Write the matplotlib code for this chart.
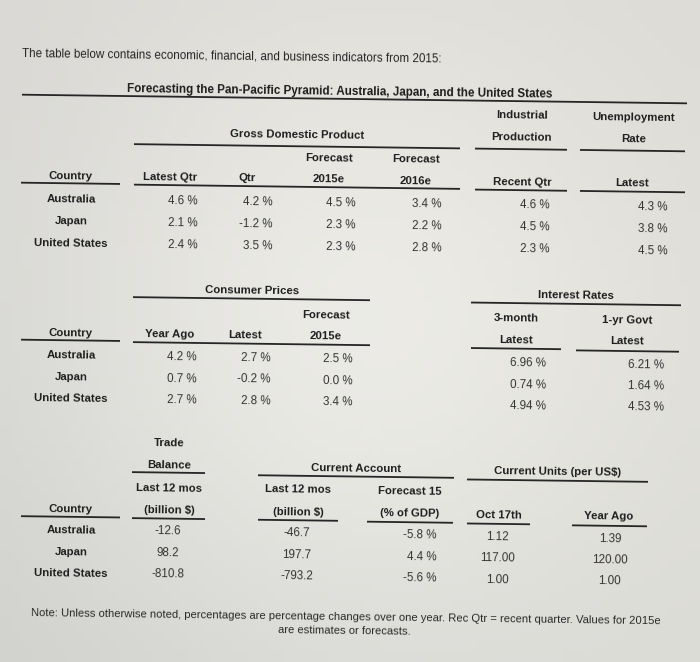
import numpy as np
import matplotlib.pyplot as plt

plt.rcParams['font.family'] = ['Liberation Sans Narrow', 'Liberation Sans', 'DejaVu Sans']

countries = ['Australia', 'Japan', 'United States']

# Gross domestic product, industrial production, unemployment
gdp_latest_qtr = [4.6, 2.1, 2.4]
gdp_qtr = [4.2, -1.2, 3.5]
gdp_2015e = [4.5, 2.3, 2.3]
gdp_2016e = [3.4, 2.2, 2.8]
ind_prod_recent = [4.6, 4.5, 2.3]
unemp_latest = [4.3, 3.8, 4.5]

# Consumer prices and interest rates
cpi_year_ago = [4.2, 0.7, 2.7]
cpi_latest = [2.7, -0.2, 2.8]
cpi_2015e = [2.5, 0.0, 3.4]
rate_3m = [6.96, 0.74, 4.94]
rate_1y = [6.21, 1.64, 4.53]

# Trade, current account, currency
trade_balance = [-12.6, 98.2, -810.8]
curr_acct = [-46.7, 197.7, -793.2]
curr_acct_gdp = [-5.8, 4.4, -5.6]
fx_oct17 = [1.12, 117.00, 1.00]
fx_year_ago = [1.39, 120.00, 1.00]

intro = 'The table below contains economic, financial, and business indicators from 2015:'
title = 'Forecasting the Pan-Pacific Pyramid: Australia, Japan, and the United States'
note1 = ('Note: Unless otherwise noted, percentages are percentage changes over one year. '
         'Rec Qtr = recent quarter. Values for 2015e')
note2 = 'are estimates or forecasts.'

TILT = 0.013
ANG = -np.degrees(np.arctan(TILT))
HEAD = '#1e1e1e'
BODY = '#353535'
HSIZE = 8.2
VSIZE = 8.4

fig = plt.figure(figsize=(7, 6.62), dpi=100)
ax = fig.add_axes([0, 0, 1, 1])

# photo background: soft gradient, lighter in the middle
yy, xx = np.mgrid[0:1:80j, 0:1:80j]
tl, tr = np.array([216, 215, 211]), np.array([220, 218, 212])
bl, br = np.array([208, 209, 205]), np.array([218, 218, 213])
bg = (tl * ((1 - xx) * (1 - yy))[..., None] + tr * (xx * (1 - yy))[..., None]
      + bl * ((1 - xx) * yy)[..., None] + br * (xx * yy)[..., None])
bump = np.exp(-(((xx - 0.5) / 0.45) ** 2 + ((yy - 0.5) / 0.5) ** 2))
bg = bg + 20 * bump[..., None]
ax.imshow(np.clip(bg, 0, 255).astype(np.uint8), extent=(0, 700, 662, 0),
          aspect='auto', interpolation='bilinear', zorder=0)
ax.set_xlim(0, 700)
ax.set_ylim(662, 0)
ax.axis('off')


def ty(x, y):
    return y + TILT * (x - 200)


def txt(x, y, s, ha='center', bold=True, size=None, color=None):
    if size is None:
        size = HSIZE if bold else VSIZE
    ax.text(x, ty(x, y), s, ha=ha, va='center', rotation=ANG, rotation_mode='anchor',
            fontsize=size, fontweight='bold' if bold else 'normal',
            color=color or (HEAD if bold else BODY), zorder=3)


def rule(x0, x1, y, lw=1.3):
    ax.plot([x0, x1], [ty(x0, y), ty(x1, y)], color='#262626', lw=lw,
            solid_capstyle='butt', zorder=2)


def column(x, vals, rows, fmt, ha='right'):
    for v, y in zip(vals, rows):
        txt(x, y, fmt.format(v), ha=ha, bold=False)


def names(rows):
    for c, y in zip(countries, rows):
        txt(71, y, c)


# heading
txt(22, 56, intro, ha='left', bold=False, size=8.4, color='#262626')
txt(340, 90, title, size=8.35)
rule(22, 687, 97)

# GDP block
txt(522, 111.5, 'Industrial')
txt(634, 111.5, 'Unemployment')
txt(297, 133.5, 'Gross Domestic Product')
txt(522, 133.5, 'Production')
txt(634, 133.5, 'Rate')
rule(134, 460, 145)
rule(475, 567, 145)
rule(580, 685, 145)
txt(329, 157, 'Forecast')
txt(416, 157, 'Forecast')
for x, s in [(71, 'Country'), (170, 'Latest Qtr'), (247, 'Qtr'), (329, '2015e'),
             (416, '2016e'), (522, 'Recent Qtr'), (632, 'Latest')]:
    txt(x, 178, s)
rule(21, 120, 185)
rule(134, 460, 185.5)
rule(475, 567, 186)
rule(580, 685, 186)
rows = [201, 223, 245]
names(rows)
column(198, gdp_latest_qtr, rows, '{:.1f} %')
column(273, gdp_qtr, rows, '{:.1f} %')
column(356, gdp_2015e, rows, '{:.1f} %')
column(442, gdp_2016e, rows, '{:.1f} %')
column(550, ind_prod_recent, rows, '{:.1f} %')
column(668, unemp_latest, rows, '{:.1f} %')

# Consumer prices / interest rates block
txt(252, 290, 'Consumer Prices')
txt(576, 291, 'Interest Rates')
rule(133, 370, 298)
rule(471, 681, 299)
txt(326, 313.5, 'Forecast')
txt(516, 314.5, '3-month')
txt(627, 315, '1-yr Govt')
for x, s in [(71, 'Country'), (170, 'Year Ago'), (245, 'Latest'), (326, '2015e')]:
    txt(x, 334.5, s)
txt(516, 336, 'Latest')
txt(627, 336, 'Latest')
rule(21, 120, 342)
rule(133, 370, 343)
rule(471, 561, 344.5)
rule(576, 679, 345.5)
rows = [357, 379, 400.5]
names(rows)
column(197, cpi_year_ago, rows, '{:.1f} %')
column(271, cpi_latest, rows, '{:.1f} %')
column(353, cpi_2015e, rows, '{:.1f} %')
rows_ir = [359, 380.5, 401.5]
column(546, rate_3m, rows_ir, '{:.2f} %')
column(664, rate_1y, rows_ir, '{:.2f} %')

# Trade / current account / currency block
txt(169, 444, 'Trade')
txt(169, 465.5, 'Balance')
rule(132, 205, 473)
txt(356, 466.5, 'Current Account')
rule(258, 454, 474.5)
txt(558, 467, 'Current Units (per US$)')
rule(467, 648, 476)
txt(169, 488.5, 'Last 12 mos')
txt(298, 488.5, 'Last 12 mos')
txt(410, 488.5, 'Forecast 15')
for x, s in [(71, 'Country'), (169, '(billion $)'), (298, '(billion $)'),
             (410, '(% of GDP)'), (499, 'Oct 17th'), (609, 'Year Ago')]:
    txt(x, 511, s)
rule(21, 120, 518.5)
rule(132, 205, 519)
rule(258, 338, 519)
rule(367, 453, 519.5)
rule(467, 530, 520)
rule(572, 647, 520.5)
rows = [532, 554, 575]
names(rows)
column(168, trade_balance, rows, '{:.1f}', ha='center')
column(297, curr_acct, rows, '{:.1f}', ha='center')
column(437, curr_acct_gdp, rows, '{:.1f} %')
rows_fx = [533.5, 554.5, 576]
column(498, fx_oct17, rows_fx, '{:.2f}', ha='center')
column(610, fx_year_ago, rows_fx, '{:.2f}', ha='center')

# footnote
txt(346, 615, note1, bold=False, size=8.1, color='#2a2a2a')
txt(344, 628.5, note2, bold=False, size=8.1, color='#2a2a2a')

fig.savefig('out.png', dpi=100)
